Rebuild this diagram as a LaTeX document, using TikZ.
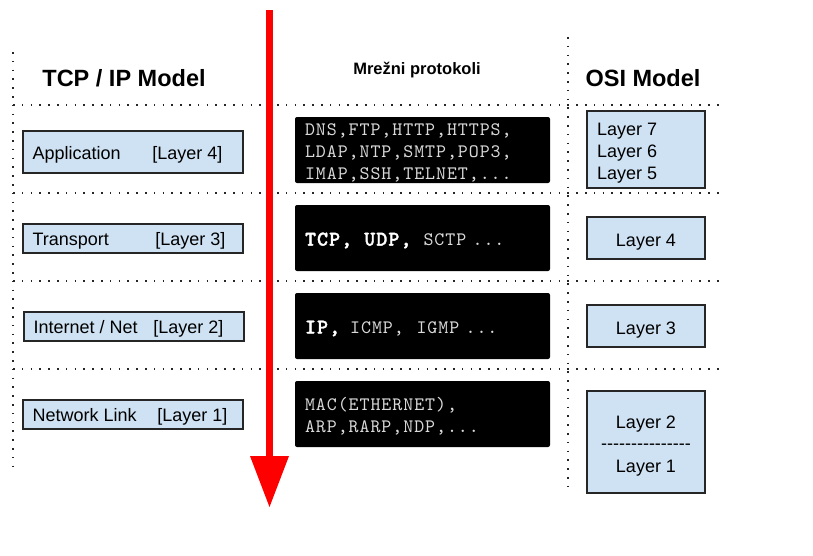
\documentclass[tikz,border=0pt]{standalone}
\usepackage{fontspec}
\setmainfont{Liberation Sans}
\newfontfamily\codefont{lmmono10-regular.otf}[LetterSpace=5, BoldFont=lmmonolt10-bold.otf, BoldFeatures={FakeBold=1.5}]
\definecolor{boxblue}{HTML}{CFE2F3}
\definecolor{monogray}{HTML}{DADADA}
\definecolor{arrowred}{HTML}{FF0000}
\newcommand{\bw}[1]{{\fontsize{21}{22}\bfseries\color{white}#1}}
\newcommand{\dashrow}{{-}{-}{-}{-}{-}{-}{-}{-}{-}{-}{-}{-}{-}{-}{-}}
\begin{document}
\begin{tikzpicture}[x=1pt,y=-1pt,
  dotline/.style={line width=1.6pt, dash pattern=on 1.6pt off 7.2pt, black!85},
  bluebox/.style={draw=black!85, line width=1.3pt, fill=boxblue, inner sep=0pt},
  boxtext/.style={font=\fontsize{18}{22}\selectfont, inner sep=0pt},
  protobox/.style={fill=black, rounded corners=2pt, minimum width=255pt, minimum height=66pt, inner sep=0pt},
  prototext/.style={text width=235pt, inner sep=0pt, align=left,
    font=\fontsize{19}{22}\codefont, text=monogray},
  title/.style={font=\fontsize{23.5}{26}\bfseries\selectfont, inner sep=0pt}
]
\useasboundingbox (0,0) rectangle (813,555);

% dotted grid
\coordinate (vl1) at (13,52);
\coordinate (vl2) at (13,469);
\coordinate (vm1) at (568,37);
\coordinate (vm2) at (568,494);
\coordinate (h1a) at (13,105);  \coordinate (h1b) at (722,105);
\coordinate (h2a) at (13,193);  \coordinate (h2b) at (720,193);
\coordinate (h3a) at (13,281);  \coordinate (h3b) at (720,281);
\coordinate (h4a) at (13,369);  \coordinate (h4b) at (720,369);
\draw[dotline] (vl1) -- (vl2);
\draw[dotline] (vm1) -- (vm2);
\draw[dotline] (h1a) -- (h1b);
\draw[dotline] (h2a) -- (h2b);
\draw[dotline] (h3a) -- (h3b);
\draw[dotline] (h4a) -- (h4b);

% titles
\node[title] (ttcp) at (124,78) {TCP / IP Model};
\node[font=\fontsize{16.5}{20}\bfseries\selectfont, inner sep=0pt] (tmid) at (417,70) {Mrežni protokoli};
\node[title] (tosi) at (643,78) {OSI Model};

% left boxes
\node[bluebox, minimum width=220pt, minimum height=42pt] (app) at (133,152) {};
\node[boxtext, anchor=base west] (appL) at ([xshift=10pt,yshift=-7pt]app.west) {Application};
\node[boxtext, anchor=base east] (appR) at ([xshift=-21pt,yshift=-7pt]app.east) {[Layer 4]};

\node[bluebox, minimum width=220pt, minimum height=29pt] (tra) at (133,238.5) {};
\node[boxtext, anchor=base west] (traL) at ([xshift=10pt,yshift=-7pt]tra.west) {Transport};
\node[boxtext, anchor=base east] (traR) at ([xshift=-18pt,yshift=-7pt]tra.east) {[Layer 3]};

\node[bluebox, minimum width=220pt, minimum height=29pt] (inet) at (134,326.5) {};
\node[boxtext, anchor=base west] (inetL) at ([xshift=10pt,yshift=-7pt]inet.west) {Internet / Net};
\node[boxtext, anchor=base east] (inetR) at ([xshift=-21pt,yshift=-7pt]inet.east) {[Layer 2]};

\node[bluebox, minimum width=220pt, minimum height=29pt] (link) at (133,414.5) {};
\node[boxtext, anchor=base west] (linkL) at ([xshift=10pt,yshift=-7pt]link.west) {Network Link};
\node[boxtext, anchor=base east] (linkR) at ([xshift=-16pt,yshift=-7pt]link.east) {[Layer 1]};

% protocol boxes
\node[protobox] (p1) at (422.5,150) {};
\node[prototext] (p1t) at ([yshift=-2.5pt]p1.center) {DNS,FTP,HTTP,HTTPS,\\LDAP,NTP,SMTP,POP3,\\IMAP,SSH,TELNET,...};
\node[protobox] (p2) at (422.5,238) {};
\node[prototext] (p2t) at ([yshift=-2.5pt]p2.center) {\bw{TCP,}\hspace{12pt}\bw{UDP,}\hspace{12pt}SCTP ...};
\node[protobox] (p3) at (422.5,326) {};
\node[prototext] (p3t) at ([yshift=-2.5pt]p3.center) {\bw{IP,}\hspace{10pt}ICMP,~~IGMP ...};
\node[protobox] (p4) at (422.5,414) {};
\node[prototext] (p4t) at ([yshift=-2.5pt]p4.center) {MAC(ETHERNET),\\ARP,RARP,NDP,...};

% OSI boxes
\node[bluebox, minimum width=118pt, minimum height=77pt] (osi7) at (646,149.5) {};
\node[boxtext, anchor=base west] (osi7a) at (597,135) {Layer 7};
\node[boxtext, anchor=base west] (osi6a) at (597,157) {Layer 6};
\node[boxtext, anchor=base west] (osi5a) at (597,179) {Layer 5};
\node[bluebox, minimum width=118pt, minimum height=42pt] (osi4) at (646,238) {};
\node[boxtext, anchor=base] (osi4t) at ([yshift=-8pt]osi4.center) {Layer 4};
\node[bluebox, minimum width=118pt, minimum height=42pt] (osi3) at (646,326) {};
\node[boxtext, anchor=base] (osi3t) at ([yshift=-8pt]osi3.center) {Layer 3};
\node[bluebox, minimum width=118pt, minimum height=102pt] (osi2) at (646,442) {};
\node[boxtext, anchor=base] (osi2a) at (646,428.5) {Layer 2};
\node[boxtext, anchor=base] (osi2d) at (646,449) {\dashrow};
\node[boxtext, anchor=base] (osi1a) at (646,472) {Layer 1};

% red arrow
\coordinate (ar1) at (269.5,10);
\coordinate (ar2) at (269.5,458);
\coordinate (ahl) at (250,456);
\coordinate (ahr) at (289,456);
\coordinate (aht) at (269.5,507);
\draw[arrowred, line width=7pt] (ar1) -- (ar2);
\fill[arrowred] (ahl) -- (ahr) -- (aht) -- cycle;
\end{tikzpicture}
\end{document}
